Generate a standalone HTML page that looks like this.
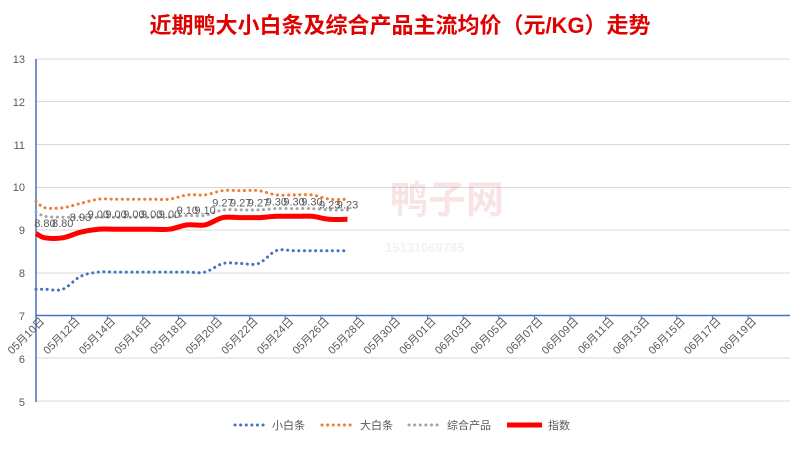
<!DOCTYPE html>
<html><head><meta charset="utf-8"><style>
body{margin:0;background:#fff;width:800px;height:445px;overflow:hidden}
text{font-family:"Liberation Sans","Noto Sans CJK SC",sans-serif}
</style></head><body>
<svg width="800" height="445" viewBox="0 0 800 445" xmlns="http://www.w3.org/2000/svg">
<text x="400" y="33" text-anchor="middle" font-size="22" font-weight="bold" fill="#e00000">近期鸭大小白条及综合产品主流均价（元/KG）走势</text>
<g stroke="#d9d9d9" stroke-width="1">
<line x1="36" y1="59" x2="790" y2="59"/><line x1="36" y1="101.5" x2="790" y2="101.5"/><line x1="36" y1="144.5" x2="790" y2="144.5"/><line x1="36" y1="187.5" x2="790" y2="187.5"/><line x1="36" y1="230" x2="790" y2="230"/><line x1="36" y1="273" x2="790" y2="273"/><line x1="36" y1="358" x2="790" y2="358"/><line x1="36" y1="401" x2="790" y2="401"/>
</g>
<g font-size="11" fill="#595959" text-anchor="end">
<text x="25" y="63">13</text><text x="25" y="106">12</text><text x="25" y="149">11</text><text x="25" y="191">10</text><text x="25" y="234">9</text><text x="25" y="277">8</text><text x="25" y="320">7</text><text x="25" y="363">6</text><text x="25" y="406">5</text>
</g>
<line x1="36" y1="59" x2="36" y2="402" stroke="#4472c4" stroke-width="1.5"/>
<line x1="36" y1="315.5" x2="790" y2="315.5" stroke="#4472c4" stroke-width="1.5"/>
<g id="ticks" stroke="#4472c4" stroke-width="1"></g>
<g id="dates" font-size="11" fill="#595959"></g>
<g opacity="0.1" fill="#c00000"><text x="390" y="213" font-size="38" font-weight="bold">鸭子网</text><text x="385" y="252" font-size="13" font-weight="bold" fill="#888">15131069765</text></g>
<path id="gray" fill="none" stroke="#a5a5a5" stroke-width="3" stroke-dasharray="0.1 5.5" stroke-linecap="round"/>
<path id="orange" fill="none" stroke="#ed7d31" stroke-width="3" stroke-dasharray="0.1 5.5" stroke-linecap="round"/>
<path id="blue" fill="none" stroke="#4472c4" stroke-width="3" stroke-dasharray="0.1 5.5" stroke-linecap="round"/>
<path id="red" fill="none" stroke="#ff0000" stroke-width="5" stroke-linejoin="round"/>
<g id="labels" font-size="11" fill="#595959" text-anchor="middle"></g>
<g font-size="11" fill="#595959">
<line x1="235" y1="425" x2="265" y2="425" stroke="#4472c4" stroke-width="3" stroke-dasharray="0.1 5.5" stroke-linecap="round"/><text x="272" y="429">小白条</text>
<line x1="322" y1="425" x2="352" y2="425" stroke="#ed7d31" stroke-width="3" stroke-dasharray="0.1 5.5" stroke-linecap="round"/><text x="360" y="429">大白条</text>
<line x1="409" y1="425" x2="439" y2="425" stroke="#a5a5a5" stroke-width="3" stroke-dasharray="0.1 5.5" stroke-linecap="round"/><text x="447" y="429">综合产品</text>
<line x1="507" y1="425" x2="542" y2="425" stroke="#ff0000" stroke-width="5"/><text x="548" y="429">指数</text>
</g>
</svg>
<script>
const ns="http://www.w3.org/2000/svg";
const Y=v=>315-(v-7)*42.9;
const xs=[36];for(let d=0;d<18;d++)xs.push(36+17.8*(d+0.5));
const red=[8.9,8.8,8.8,8.93,9,9,9,9,9,9.1,9.1,9.27,9.27,9.27,9.3,9.3,9.3,9.23,9.23];
const org=[9.65,9.5,9.5,9.6,9.7,9.7,9.7,9.7,9.7,9.8,9.8,9.9,9.9,9.9,9.8,9.8,9.8,9.7,9.7];
const blu=[7.6,7.6,7.6,7.9,8,8,8,8,8,8,8,8.2,8.2,8.2,8.5,8.5,8.5,8.5,8.5];
const gry=[9.4,9.3,9.28,9.28,9.28,9.28,9.28,9.28,9.28,9.32,9.32,9.45,9.45,9.45,9.48,9.48,9.48,9.45,9.45];
function smooth(a){const p=a.map((v,i)=>[xs[i],Y(v)]);let d=`M${p[0][0]},${p[0][1]}`;
for(let i=0;i<p.length-1;i++){const p0=p[Math.max(0,i-1)],p1=p[i],p2=p[i+1],p3=p[Math.min(p.length-1,i+2)];const t=0.16;
const c1=[p1[0]+(p2[0]-p0[0])*t,p1[1]+(p2[1]-p0[1])*t],c2=[p2[0]-(p3[0]-p1[0])*t,p2[1]-(p3[1]-p1[1])*t];
d+=` C${c1[0].toFixed(1)},${c1[1].toFixed(1)} ${c2[0].toFixed(1)},${c2[1].toFixed(1)} ${p2[0].toFixed(1)},${p2[1].toFixed(1)}`;}return d;}
document.getElementById("red").setAttribute("d",smooth(red));
document.getElementById("orange").setAttribute("d",smooth(org));
document.getElementById("blue").setAttribute("d",smooth(blu));
document.getElementById("gray").setAttribute("d",smooth(gry));
const L=document.getElementById("labels");
for(let i=1;i<19;i++){const t=document.createElementNS(ns,"text");t.setAttribute("x",xs[i]);t.setAttribute("y",Y(red[i])-11);t.textContent=red[i].toFixed(2);L.appendChild(t);}
const T=document.getElementById("ticks"),D=document.getElementById("dates");
for(let k=0;k<=20;k++){const x=36+35.6*k;
 const l=document.createElementNS(ns,"line");l.setAttribute("x1",x);l.setAttribute("x2",x);l.setAttribute("y1",315);l.setAttribute("y2",320);T.appendChild(l);
 const dt=new Date(2024,4,10+2*k);const s=String(dt.getMonth()+1).padStart(2,"0")+"月"+String(dt.getDate()).padStart(2,"0")+"日";
 const t=document.createElementNS(ns,"text");t.setAttribute("text-anchor","end");t.setAttribute("transform",`translate(${x+9},${322}) rotate(-45)`);t.textContent=s;D.appendChild(t);}
</script>
</body></html>
